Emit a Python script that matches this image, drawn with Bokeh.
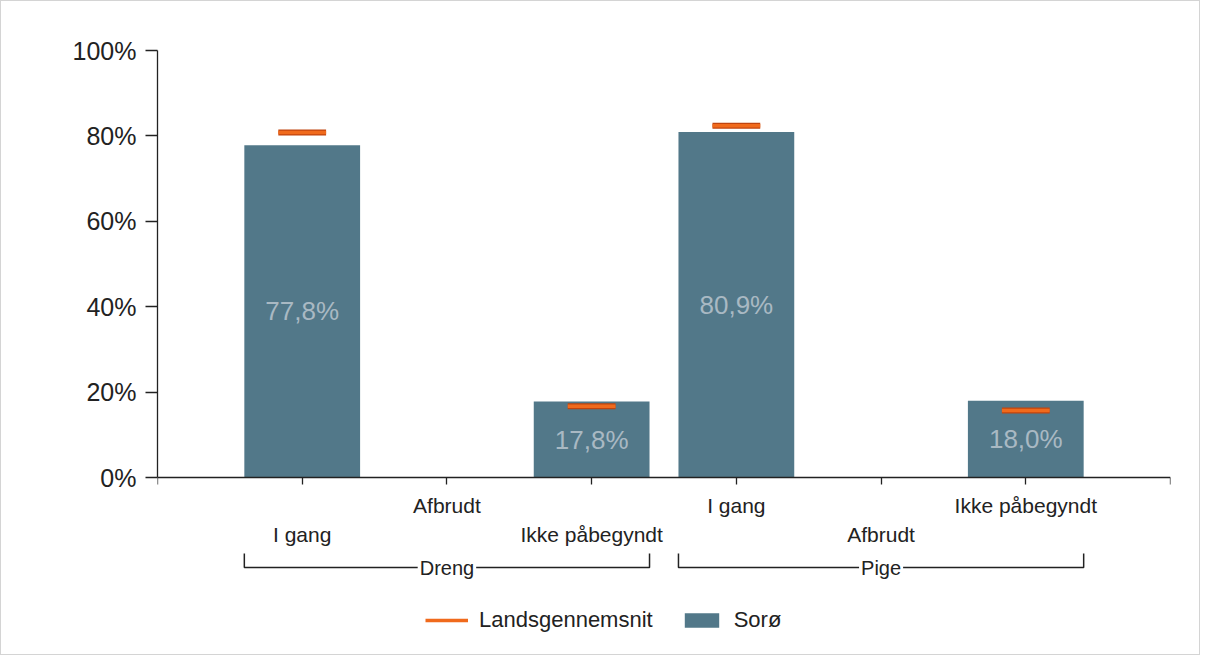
import math
from bokeh.plotting import figure
from bokeh.models import (Range1d, LinearAxis, FixedTicker, ColumnDataSource,
                          Legend, LegendItem)
from bokeh.core.properties import value
from bokeh.embed import file_html
from bokeh.resources import INLINE

NaN = float("nan")

# ---------------- data ----------------
groups = ["Dreng", "Pige"]
statuses = ["I gang", "Afbrudt", "Ikke påbegyndt"]
soroe = [77.8, NaN, 17.8, 80.9, NaN, 18.0]          # Sorø (bars)
lands = [80.8, NaN, 16.7, 82.4, NaN, 15.7]          # Landsgennemsnit (markers)
y_ticks = [0, 20, 40, 60, 80, 100]
y_tick_labels = ["0%", "20%", "40%", "60%", "80%", "100%"]
series_names = ["Landsgennemsnit", "Sorø"]

# ---------------- styling ----------------
FONT = "Liberation Sans"
TXT = "#222222"
BAR = "#527889"
ORANGE = "#f06a1c"
ORANGE_DARK = "#c0440e"
LBL = "#a9b9c3"
BAR_W = 0.8
MARK_W = 0.33
PX_PER_UNIT = 4.27

n_s = len(statuses)
cats = [s for g in groups for s in statuses]
xs = list(range(len(cats)))

p = figure(width=1200, height=655, output_backend="svg", toolbar_location=None,
           x_range=Range1d(-1, len(cats)), y_range=Range1d(-40.5, 100),
           x_axis_location=None, y_axis_location=None,
           min_border_left=156, min_border_right=31, min_border_top=49,
           min_border_bottom=6, background_fill_color="white",
           border_fill_color="white", outline_line_color=None,
           styles={"border": "1px solid #d4d4d4"})
p.grid.visible = False

# bars
bx = [x for x, v in zip(xs, soroe) if not math.isnan(v)]
bv = [v for v in soroe if not math.isnan(v)]
bsrc = ColumnDataSource(dict(x=bx, top=bv, ymid=[v / 2 for v in bv],
                             lab=[("%.1f%%" % v).replace(".", ",") for v in bv]))
bars = p.vbar(x="x", top="top", bottom=0, width=BAR_W, source=bsrc,
              fill_color=BAR, line_color=None)
p.text(x="x", y="ymid", text="lab", source=bsrc, text_align="center",
       text_baseline="middle", text_font=value(FONT), text_font_size="26px",
       text_color=LBL)

# markers (Landsgennemsnit)
mx = [x for x, v in zip(xs, lands) if not math.isnan(v)]
mv = [v for v in lands if not math.isnan(v)]
msrc = ColumnDataSource(dict(x0=[x - MARK_W / 2 for x in mx],
                             x1=[x + MARK_W / 2 for x in mx], y=mv))
p.segment(x0="x0", y0="y", x1="x1", y1="y", source=msrc,
          line_color=ORANGE_DARK, line_width=6)
mark = p.segment(x0="x0", y0="y", x1="x1", y1="y", source=msrc,
                 line_color=ORANGE, line_width=3.5)

# y axis
yax = LinearAxis(ticker=FixedTicker(ticks=y_ticks), bounds=(0, 100),
                 major_label_overrides={t: l for t, l in zip(y_ticks, y_tick_labels)},
                 axis_line_color=TXT, axis_line_width=1.3,
                 major_tick_line_color=TXT, major_tick_line_width=1.3,
                 major_tick_out=12, major_tick_in=0, minor_tick_line_color=None,
                 major_label_text_font=FONT, major_label_text_font_size="25px",
                 major_label_text_color=TXT, major_label_standoff=9)
p.add_layout(yax, "left")

# x axis (row 1 labels: odd positions, row 2: even positions)
xticks = [-1] + xs + [len(cats)]
row1 = {t: "" for t in xticks}
row2 = {t: "" for t in xticks}
for i, c in zip(xs, cats):
    (row1 if i % 2 == 1 else row2)[i] = c
xax = LinearAxis(ticker=FixedTicker(ticks=xticks), fixed_location=0,
                 major_label_overrides=row1,
                 axis_line_color=TXT, axis_line_width=1.3,
                 major_tick_line_color=TXT, major_tick_line_width=1.3,
                 major_tick_out=7, major_tick_in=0, minor_tick_line_color=None,
                 major_label_text_font=FONT, major_label_text_font_size="21px",
                 major_label_text_color=TXT, major_label_standoff=9)
p.add_layout(xax, "below")
xax2 = LinearAxis(ticker=FixedTicker(ticks=xticks), fixed_location=-29 / PX_PER_UNIT,
                  major_label_overrides=row2,
                  axis_line_color=None, major_tick_line_color=None,
                  major_tick_out=7, major_tick_in=0, minor_tick_line_color=None,
                  major_label_text_font=FONT, major_label_text_font_size="21px",
                  major_label_text_color=TXT, major_label_standoff=9)
p.add_layout(xax2, "below")

# group brackets
BR_Y = -90 / PX_PER_UNIT
BR_TOP = -76 / PX_PER_UNIT
bxs, bys, gx, gy = [], [], [], []
for gi, g in enumerate(groups):
    left = gi * n_s - BAR_W / 2
    right = gi * n_s + n_s - 1 + BAR_W / 2
    bxs.append([left, left, right, right])
    bys.append([BR_TOP, BR_Y, BR_Y, BR_TOP])
    gx.append(gi * n_s + (n_s - 1) / 2)
    gy.append(BR_Y)
p.multi_line(xs=bxs, ys=bys, line_color=TXT, line_width=1.5)
p.text(x=gx, y=gy, text=groups, text_align="center", text_baseline="middle",
       text_font=value(FONT), text_font_size="20px", text_color=TXT,
       background_fill_color="white", padding=2)

# legend
legend = Legend(items=[LegendItem(label=series_names[0], renderers=[mark]),
                       LegendItem(label=series_names[1], renderers=[bars])],
                location=(268, 17), orientation="horizontal", padding=0, margin=0,
                border_line_color=None, background_fill_alpha=0,
                glyph_width=43, glyph_height=18, label_standoff=11, spacing=27,
                label_text_font=FONT, label_text_font_size="22px",
                label_text_color=TXT)
p.add_layout(legend)

open("out.html", "w").write(file_html(p, INLINE))
